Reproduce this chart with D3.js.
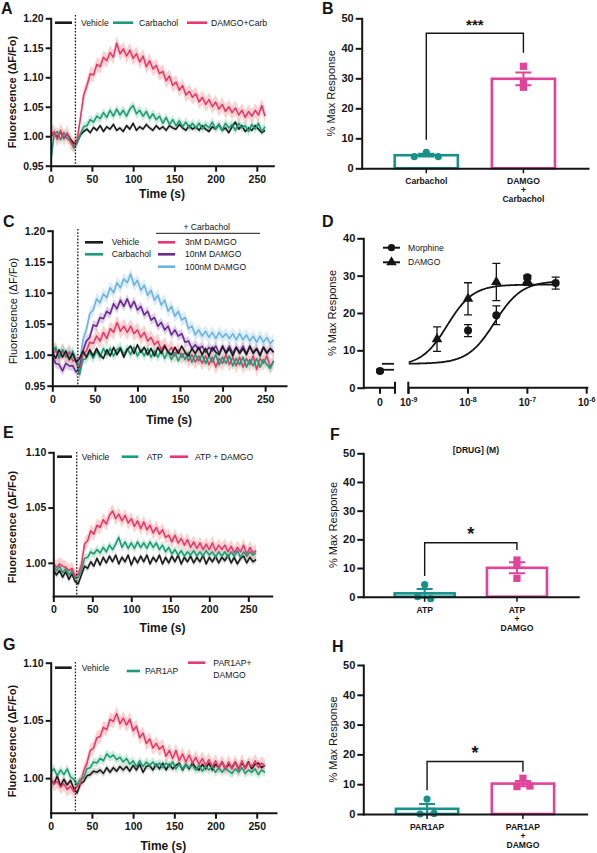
<!DOCTYPE html>
<html><head><meta charset="utf-8">
<script src="https://cdn.jsdelivr.net/npm/d3@7"></script>
<style>
html,body{margin:0;padding:0;background:#fff;}
svg{display:block;}
</style></head><body>
<svg id="fig" width="597" height="853"></svg>
<script>
// ================= DATA =================
const SAMPLE_INTERVAL_S = 4;              // traces sampled every 4 s, t = 0..260
const X_TICKS = [0, 50, 100, 150, 200, 250];

// Panel A
const aLabels = ["Vehicle", "Carbachol", "DAMGO+Carb"];
const aVehicle = [
 1.000,1.006,0.998,1.008,0.996,1.004,0.995,0.988,0.990,1.002,1.008,
 1.012,1.006,1.015,1.010,1.018,1.008,1.016,1.012,1.020,1.010,1.014,
 1.008,1.018,1.012,1.022,1.010,1.016,1.012,1.020,1.014,1.010,1.018,
 1.012,1.016,1.010,1.018,1.014,1.012,1.020,1.014,1.010,1.018,1.012,
 1.016,1.010,1.018,1.012,1.008,1.016,1.012,1.020,1.010,1.014,1.006,
 1.016,1.024,1.012,1.018,1.008,1.014,1.010,1.018,1.012,1.006,1.010];
const aCarb = [
 0.955,1.002,1.008,0.994,1.006,0.996,0.992,0.980,0.988,1.004,1.016,
 1.018,1.028,1.024,1.034,1.030,1.040,1.032,1.044,1.034,1.046,1.036,
 1.044,1.034,1.046,1.052,1.038,1.044,1.034,1.042,1.030,1.038,1.028,
 1.034,1.022,1.032,1.020,1.028,1.018,1.026,1.016,1.024,1.014,1.022,
 1.014,1.022,1.012,1.020,1.014,1.024,1.012,1.020,1.010,1.022,1.014,
 1.020,1.010,1.022,1.014,1.018,1.008,1.020,1.012,1.022,1.008,1.016];
const aDamgo = [
 1.000,1.008,0.994,1.010,0.996,1.006,0.990,0.984,0.994,1.030,1.070,
 1.086,1.106,1.104,1.122,1.118,1.134,1.128,1.142,1.134,1.158,1.140,
 1.148,1.136,1.146,1.132,1.140,1.126,1.136,1.118,1.128,1.114,1.120,
 1.106,1.110,1.094,1.102,1.086,1.092,1.078,1.086,1.070,1.076,1.066,
 1.072,1.058,1.066,1.054,1.062,1.050,1.058,1.046,1.054,1.042,1.050,
 1.040,1.048,1.036,1.044,1.032,1.042,1.034,1.044,1.036,1.052,1.034];
const aSem = [0.004, 0.008, 0.012];
const aYTicks = [0.95, 1.00, 1.05, 1.10, 1.15, 1.20];

// Panel B
const bCats = ["Carbachol", "DAMGO\n+\nCarbachol"];
const bCarb = [3.9, 5.3, 3.9];
const bDamgo = [34.0, 28.5, 27.0];
const bSig = {label: "***", bracket: 45, leftEnd: 9.5, rightEnd: 38.5};

// Panel C
const cLabels = ["Vehicle", "Carbachol", "3nM DAMGO", "10nM DAMGO", "100nM DAMGO"];
const cVehicle = [
 1.004,0.994,1.008,0.996,1.006,0.992,1.002,0.988,0.994,1.006,0.996,
 1.008,0.998,1.010,1.000,0.994,1.008,0.998,1.012,1.000,1.010,0.996,
 1.008,1.014,1.002,1.016,1.004,1.012,1.000,1.010,0.998,1.012,1.002,
 1.014,1.004,1.000,1.012,1.002,1.014,1.004,0.998,1.010,1.002,1.012,
 1.000,1.010,0.998,1.012,1.004,1.000,1.014,1.002,1.010,0.998,1.012,
 1.002,1.010,1.000,1.014,1.002,1.010,0.998,1.012,1.002,1.010,1.004];
const cCarb = [
 1.006,1.012,0.996,1.008,1.000,0.994,1.006,0.990,0.968,0.992,0.994,
 1.004,0.994,1.006,0.996,1.010,1.000,1.010,0.998,1.008,1.012,1.000,
 1.010,1.000,1.012,0.998,1.008,0.998,1.010,0.996,1.006,0.996,1.008,
 0.994,1.006,0.992,1.004,0.990,1.002,0.992,1.004,0.988,1.000,0.990,
 1.000,0.986,0.998,0.988,1.000,0.984,0.996,0.986,0.998,0.982,0.994,
 0.984,0.996,0.980,0.992,0.982,0.994,0.980,0.992,0.984,0.978,0.990];
const c3nM = [
 1.000,1.008,0.994,1.006,0.996,1.004,0.990,0.992,0.970,1.000,1.006,
 1.020,1.018,1.030,1.022,1.036,1.026,1.042,1.036,1.052,1.038,1.046,
 1.036,1.046,1.034,1.040,1.028,1.036,1.022,1.028,1.016,1.022,1.008,
 1.016,1.004,1.012,0.998,1.008,0.996,1.004,0.990,1.000,0.988,0.998,
 0.986,0.998,0.984,0.996,0.980,0.994,0.986,1.000,0.984,0.996,0.982,
 0.996,0.980,0.994,0.984,0.998,0.976,0.994,0.986,0.998,0.980,0.990];
const c10nM = [
 0.998,0.986,0.984,0.974,0.986,0.982,0.982,0.972,0.980,1.006,1.022,
 1.028,1.048,1.046,1.060,1.058,1.070,1.066,1.082,1.074,1.088,1.078,
 1.090,1.076,1.086,1.072,1.078,1.064,1.070,1.056,1.060,1.046,1.052,
 1.040,1.046,1.032,1.040,1.030,1.034,1.020,1.022,1.010,1.016,1.008,
 1.014,1.004,1.012,1.006,1.014,1.002,1.012,1.004,1.014,1.002,1.012,
 1.004,1.014,1.002,1.012,1.004,1.010,1.000,1.012,1.004,1.010,1.004];
const c100nM = [
 1.000,1.006,0.996,1.008,0.998,1.006,0.994,0.990,0.986,1.024,1.040,
 1.066,1.072,1.090,1.084,1.098,1.092,1.108,1.100,1.116,1.108,1.122,
 1.116,1.130,1.112,1.120,1.104,1.112,1.096,1.104,1.088,1.096,1.080,
 1.088,1.070,1.078,1.062,1.070,1.056,1.060,1.042,1.046,1.032,1.040,
 1.030,1.038,1.028,1.036,1.026,1.036,1.028,1.034,1.026,1.034,1.024,
 1.034,1.024,1.032,1.022,1.030,1.020,1.030,1.020,1.028,1.018,1.024];
const cSem = [0.004, 0.008, 0.012, 0.008, 0.010];

// Panel D
const dMorphConc = [0, 1e-8, 3e-8, 1e-7, 3e-7];
const dMorphResp = [4.5, 15.3, 19.4, 29.6, 28.0];
const dMorphErr  = [0.4, 1.6, 2.5, 0.5, 1.6];
const dDamgoConc = [3e-9, 1e-8, 3e-8, 1e-7];
const dDamgoResp = [13.0, 23.8, 28.3, 28.6];
const dDamgoErr  = [3.3, 4.3, 5.0, 1.2];
// 4-parameter logistic fits: [bottom, top, logEC50, hill]
const dMorphFit = [6.4, 28.6, -7.55, 1.9];
const dDamgoFit = [5.8, 27.6, -8.35, 2.0];
const dZeroLines = [6.4, 4.8];
const dXTickExp = [-9, -8, -7, -6];

// Panel E
const eLabels = ["Vehicle", "ATP", "ATP + DAMGO"];
const eVehicle = [
 0.994,0.989,0.993,0.987,0.992,0.985,0.990,0.983,0.981,0.989,0.997,
 0.995,1.001,0.997,1.004,0.998,1.005,1.000,1.006,1.001,1.007,0.999,
 1.005,1.001,1.007,0.998,1.005,1.000,1.006,1.001,1.007,0.999,1.005,
 1.001,1.007,0.999,1.005,1.000,1.006,1.001,1.007,0.999,1.005,1.001,
 1.006,1.000,1.005,1.001,1.007,0.999,1.005,1.001,1.006,1.000,1.005,
 1.002,1.007,1.000,1.005,0.999,1.004,1.006,1.000,1.005,1.001,1.003];
const eATP = [
 0.998,0.993,0.997,0.991,0.995,0.989,0.993,0.986,0.987,0.993,1.004,
 1.005,1.010,1.008,1.012,1.009,1.014,1.010,1.016,1.012,1.017,1.023,
 1.014,1.019,1.013,1.018,1.013,1.019,1.014,1.018,1.013,1.019,1.014,
 1.018,1.012,1.016,1.010,1.014,1.008,1.012,1.007,1.011,1.006,1.010,
 1.007,1.011,1.006,1.010,1.006,1.011,1.007,1.010,1.005,1.010,1.006,
 1.010,1.005,1.010,1.006,1.011,1.005,1.010,1.006,1.010,1.007,1.009];
const eDamgo = [
 1.000,0.996,0.999,0.997,0.996,0.993,0.995,0.988,0.990,0.998,1.017,
 1.020,1.029,1.026,1.034,1.032,1.039,1.035,1.043,1.047,1.040,1.044,
 1.038,1.043,1.036,1.040,1.033,1.038,1.031,1.037,1.030,1.034,1.027,
 1.032,1.026,1.030,1.023,1.025,1.019,1.025,1.018,1.022,1.016,1.021,
 1.014,1.019,1.013,1.018,1.012,1.017,1.012,1.018,1.011,1.016,1.012,
 1.016,1.010,1.015,1.009,1.014,1.010,1.016,1.008,1.014,1.009,1.011];
const eSem = [0.003, 0.004, 0.006];
const egYTicks = [1.00, 1.05, 1.10];

// Panel F
const fCats = ["ATP", "ATP\n+\nDAMGO"];
const fATP = [4.2, 0.0, -0.7];
const fDamgo = [12.8, 11.0, 6.4];
const fSig = {label: "*", bracket: 18.8, leftEnd: 7.2, rightEnd: 16.3};

// Panel G
const gLabels = ["Vehicle", "PAR1AP", "PAR1AP+\nDAMGO"];
const gVehicle = [
 0.999,0.995,1.002,0.993,0.999,0.994,0.998,0.991,0.987,0.995,0.997,
 1.002,1.003,1.006,1.005,1.007,1.004,1.009,1.005,1.009,1.006,1.010,
 1.007,1.010,1.006,1.011,1.007,1.012,1.005,1.010,1.011,1.007,1.012,
 1.008,1.013,1.007,1.012,1.008,1.011,1.013,1.007,1.012,1.008,1.013,
 1.009,1.007,1.012,1.008,1.013,1.007,1.012,1.009,1.014,1.008,1.012,
 1.009,1.014,1.008,1.013,1.009,1.014,1.008,1.012,1.013,1.009,1.011];
const gPAR = [
 1.005,1.008,1.002,1.007,1.003,1.008,1.001,0.999,0.994,0.999,1.000,
 1.008,1.009,1.014,1.013,1.017,1.015,1.021,1.018,1.020,1.016,1.018,
 1.014,1.017,1.012,1.015,1.010,1.015,1.010,1.014,1.011,1.014,1.010,
 1.013,1.009,1.013,1.010,1.014,1.008,1.012,1.008,1.012,1.009,1.011,
 1.007,1.011,1.006,1.010,1.007,1.010,1.005,1.009,1.005,1.009,1.006,
 1.004,1.008,1.005,1.009,1.004,1.007,1.005,1.008,1.003,1.007,1.005];
const gDamgo = [
 0.999,0.995,0.997,0.992,0.995,0.990,0.993,0.988,0.993,0.995,1.006,
 1.013,1.024,1.026,1.035,1.036,1.044,1.042,1.051,1.049,1.056,1.047,
 1.052,1.046,1.051,1.041,1.045,1.035,1.039,1.030,1.034,1.026,1.030,
 1.025,1.028,1.019,1.024,1.017,1.024,1.015,1.021,1.014,1.020,1.013,
 1.018,1.012,1.017,1.011,1.016,1.010,1.015,1.009,1.014,1.008,1.014,
 1.008,1.014,1.007,1.015,1.008,1.013,1.010,1.015,1.009,1.013,1.010];
const gSem = [0.003, 0.004, 0.006];

// Panel H
const hCats = ["PAR1AP", "PAR1AP\n+\nDAMGO"];
const hPAR = [5.0, 0.0, 0.2];
const hDamgo = [12.0, 9.2, 9.4];
const hSig = {label: "*", bracket: 17.6, leftEnd: 8.0, rightEnd: 14.2};

const barYTicks = [0, 10, 20, 30, 40, 50];

// ================= STYLE =================
const FONT = '"Liberation Sans", Arial, Helvetica, sans-serif';
const INK = "#151515";
const C = {
  black: "#1c1c1c", blackBand: "#b0b0b0",
  teal: "#1c9c7c", tealBand: "#9fd8b4",
  pink: "#e8386f", pinkBand: "#f5a8a4",
  purple: "#6a2b8c", purpleBand: "#bea2d6",
  blue: "#6cb3e2", blueBand: "#bcdcf2",
  barTeal: "#17918a", barPink: "#e2439a"
};

const svg = d3.select("#fig").attr("font-family", FONT);

function styleAxis(sel, size) {
  sel.attr("font-family", FONT).attr("font-size", size || 10.5).attr("font-weight", "bold");
  sel.select(".domain").attr("stroke", INK).attr("stroke-width", 2).attr("stroke-linecap", "square");
  sel.selectAll(".tick line").attr("stroke", INK).attr("stroke-width", 2);
  sel.selectAll(".tick text").attr("fill", INK);
}

function panelLabel(txt, x, y) {
  svg.append("text").attr("x", x).attr("y", y).text(txt)
    .attr("font-size", 16).attr("font-weight", "bold").attr("fill", INK);
}

function yTitle(txt, x, y, bold) {
  svg.append("text").attr("transform", `translate(${x},${y}) rotate(-90)`)
    .attr("text-anchor", "middle").attr("dy", "0.35em")
    .attr("font-size", 11).attr("font-weight", bold ? "bold" : "normal")
    .attr("fill", INK).text(txt);
}

let clipId = 0;
function tracePanel(o) {
  const g = svg.append("g");
  const x = d3.scaleLinear().domain([0, o.xMax]).range([o.left, o.right]);
  const y = d3.scaleLinear().domain(o.yDomain).range([o.bottom, o.top]);
  const id = "clip" + (clipId++);
  g.append("clipPath").attr("id", id).append("rect")
    .attr("x", o.left).attr("y", o.top).attr("width", o.right - o.left).attr("height", o.bottom - o.top);
  const plot = g.append("g").attr("clip-path", `url(#${id})`);
  const toPts = vals => vals.map((v, i) => ({t: i * SAMPLE_INTERVAL_S, v}));
  o.series.forEach(s => {
    const area = d3.area().x(d => x(d.t)).y0(d => y(d.v - s.sem)).y1(d => y(d.v + s.sem));
    plot.append("path").attr("d", area(toPts(s.values))).attr("fill", s.band).attr("opacity", 0.5);
  });
  const line = d3.line().x(d => x(d.t)).y(d => y(d.v));
  o.series.forEach(s => {
    plot.append("path").attr("d", line(toPts(s.values))).attr("fill", "none")
      .attr("stroke", s.color).attr("stroke-width", 1.6).attr("stroke-linejoin", "round");
  });
  // stimulus marker at t = 30 s
  g.append("line").attr("x1", x(30)).attr("x2", x(30)).attr("y1", o.dotTop).attr("y2", o.bottom)
    .attr("stroke", INK).attr("stroke-width", 1.3).attr("stroke-dasharray", "1.6,1.6");
  const ax = g.append("g").attr("transform", `translate(0,${o.bottom})`)
    .call(d3.axisBottom(x).tickValues(X_TICKS).tickSize(6).tickPadding(4).tickSizeOuter(0));
  styleAxis(ax);
  const ay = g.append("g").attr("transform", `translate(${o.left},0)`)
    .call(d3.axisLeft(y).tickValues(o.yTicks).tickFormat(d3.format(".2f")).tickSize(5).tickPadding(2).tickSizeOuter(0));
  styleAxis(ay);
  g.append("text").attr("x", (o.left + o.right) / 2).attr("y", o.xTitleY).attr("text-anchor", "middle")
    .attr("font-size", 12).attr("font-weight", "bold").attr("fill", INK).text("Time (s)");
  yTitle("Fluorescence (\u0394F/Fo)", o.yTitleX, o.yTitleY, o.yTitleBold);
  // legend
  o.legend.forEach(l => {
    g.append("line").attr("x1", l.lx).attr("x2", l.lx + l.lw).attr("y1", l.ly).attr("y2", l.ly)
      .attr("stroke", l.color).attr("stroke-width", 2.6);
    const t = g.append("text").attr("x", l.tx).attr("y", l.ty).attr("font-size", 8.6).attr("fill", INK);
    l.text.split("\n").forEach((s, i) => t.append("tspan").attr("x", l.tx).attr("dy", i ? "1.35em" : "0.35em").text(s));
  });
  return {x, y, g};
}

function barPanel(o) {
  const g = svg.append("g");
  const x = d3.scaleBand().domain(o.cats).range([o.left, o.right]).paddingInner(0.35).paddingOuter(0.34);
  const y = d3.scaleLinear().domain([0, 50]).range([o.bottom, o.top]);
  o.groups.forEach((gr, gi) => {
    const cat = o.cats[gi];
    const mean = d3.mean(gr.values);
    const sem = d3.deviation(gr.values) / Math.sqrt(gr.values.length);
    const cx = x(cat) + x.bandwidth() / 2;
    g.append("rect").attr("x", x(cat)).attr("y", y(mean)).attr("width", x.bandwidth())
      .attr("height", y(0) - y(mean)).attr("fill", "#fff").attr("stroke", gr.color).attr("stroke-width", 2.6);
    gr.values.forEach((v, i) => {
      const px = cx + gr.offsets[i];
      if (gr.shape === "circle") {
        g.append("circle").attr("cx", px).attr("cy", y(v)).attr("r", 3.6).attr("fill", gr.color);
      } else {
        g.append("rect").attr("x", px - 3.6).attr("y", y(v) - 3.6).attr("width", 7.2).attr("height", 7.2).attr("fill", gr.color);
      }
    });
    const cap = 8;
    g.append("path").attr("fill", "none").attr("stroke", gr.color).attr("stroke-width", 2)
      .attr("d", `M${cx},${y(mean + sem)}V${y(mean - sem)}M${cx - cap},${y(mean + sem)}H${cx + cap}M${cx - cap},${y(mean - sem)}H${cx + cap}M${cx - cap - 1},${y(mean)}H${cx + cap + 1}`);
  });
  const ax = g.append("g").attr("transform", `translate(0,${o.bottom})`)
    .call(d3.axisBottom(x).tickSize(5).tickSizeOuter(0).tickFormat(""));
  styleAxis(ax);
  ax.selectAll(".tick line").attr("stroke-width", 1.5);
  o.cats.forEach(c => {
    const t = g.append("text").attr("x", x(c) + x.bandwidth() / 2).attr("y", o.bottom + 16)
      .attr("text-anchor", "middle").attr("font-size", 8.6).attr("font-weight", "bold").attr("fill", INK);
    c.split("\n").forEach((s, i) => t.append("tspan").attr("x", x(c) + x.bandwidth() / 2).attr("dy", i ? 8.9 : 0).text(s));
  });
  const ay = g.append("g").attr("transform", `translate(${o.left},0)`)
    .call(d3.axisLeft(y).tickValues(barYTicks).tickSize(6).tickPadding(2).tickSizeOuter(0));
  styleAxis(ay, 11);
  // significance bracket
  const lx = x(o.cats[0]) + x.bandwidth() / 2, rx = x(o.cats[1]) + x.bandwidth() / 2;
  g.append("path").attr("fill", "none").attr("stroke", INK).attr("stroke-width", 1.4)
    .attr("d", `M${lx},${y(o.sig.leftEnd)}V${y(o.sig.bracket)}H${rx}V${y(o.sig.rightEnd)}`);
  g.append("text").attr("x", (lx + rx) / 2).attr("y", y(o.sig.bracket) - 3).attr("text-anchor", "middle")
    .attr("font-size", o.sig.label.length > 1 ? 15 : 18).attr("font-weight", "bold").attr("fill", INK).text(o.sig.label);
  yTitle("% Max Response", o.yTitleX, (o.top + o.bottom) / 2, false);
}

// ================= PANEL A =================
panelLabel("A", 1, 14);
tracePanel({
  left: 50.7, right: 273.3, top: 18.3, bottom: 165.7, xMax: 270, dotTop: 15,
  yDomain: [0.95, 1.20], yTicks: aYTicks, xTitleY: 198,
  yTitleX: 12, yTitleY: 92, yTitleBold: true,
  series: [
    {values: aVehicle, sem: aSem[0], color: C.black, band: C.blackBand},
    {values: aCarb, sem: aSem[1], color: C.teal, band: C.tealBand},
    {values: aDamgo, sem: aSem[2], color: C.pink, band: C.pinkBand}
  ],
  legend: [
    {lx: 55, lw: 17, ly: 22.7, tx: 81, ty: 22.7, color: C.black, text: aLabels[0]},
    {lx: 113, lw: 20, ly: 22.7, tx: 139, ty: 22.7, color: C.teal, text: aLabels[1]},
    {lx: 187, lw: 20, ly: 22.7, tx: 211, ty: 22.7, color: C.pink, text: aLabels[2]}
  ]
});

// ================= PANEL B =================
panelLabel("B", 322, 14);
barPanel({
  left: 361.7, right: 588, top: 18.3, bottom: 168.3, cats: bCats, sig: bSig, yTitleX: 331,
  groups: [
    {values: bCarb, color: C.barTeal, shape: "circle", offsets: [-12, 0, 12]},
    {values: bDamgo, color: C.barPink, shape: "square", offsets: [0, 0, 0]}
  ]
});

// ================= PANEL C =================
panelLabel("C", 3, 227);
tracePanel({
  left: 52.3, right: 286, top: 230.7, bottom: 385.7, xMax: 274.5, dotTop: 229,
  yDomain: [0.95, 1.20], yTicks: aYTicks, xTitleY: 424,
  yTitleX: 13, yTitleY: 311, yTitleBold: false,
  series: [
    {values: c100nM, sem: cSem[4], color: C.blue, band: C.blueBand},
    {values: c10nM, sem: cSem[3], color: C.purple, band: C.purpleBand},
    {values: c3nM, sem: cSem[2], color: C.pink, band: C.pinkBand},
    {values: cCarb, sem: cSem[1], color: C.teal, band: C.tealBand},
    {values: cVehicle, sem: cSem[0], color: C.black, band: C.blackBand}
  ],
  legend: [
    {lx: 85, lw: 18, ly: 242.3, tx: 111.7, ty: 242.3, color: C.black, text: cLabels[0]},
    {lx: 85, lw: 18, ly: 254.3, tx: 111.7, ty: 254.3, color: C.teal, text: cLabels[1]},
    {lx: 158, lw: 17, ly: 242.3, tx: 185, ty: 242.3, color: C.pink, text: cLabels[2]},
    {lx: 158, lw: 17, ly: 254.3, tx: 185, ty: 254.3, color: C.purple, text: cLabels[3]},
    {lx: 158, lw: 17, ly: 266.7, tx: 185, ty: 266.7, color: C.blue, text: cLabels[4]}
  ]
});
svg.append("text").attr("x", 206.7).attr("y", 229.5).attr("text-anchor", "middle")
  .attr("font-size", 8.6).attr("fill", INK).text("+ Carbachol");
svg.append("line").attr("x1", 156).attr("x2", 260).attr("y1", 233.3).attr("y2", 233.3)
  .attr("stroke", INK).attr("stroke-width", 1);

// ================= PANEL D =================
panelLabel("D", 322, 227);
(function () {
  const g = svg.append("g");
  const y = d3.scaleLinear().domain([0, 40]).range([387.7, 238.3]);
  const x = d3.scaleLog().domain([1e-9, 1e-6]).range([408.7, 586.7]);
  const xZero = 380, axisLeft = 363.3, breakL = 395, breakR = 408.3, axisEnd = 588.3;
  const px = c => c === 0 ? xZero : x(c);
  const ay = g.append("g").attr("transform", `translate(${axisLeft},0)`)
    .call(d3.axisLeft(y).tickValues([0, 10, 20, 30, 40]).tickSize(6).tickPadding(2).tickSizeOuter(0));
  styleAxis(ay, 11);
  const y0 = y(0);
  g.append("path").attr("stroke", INK).attr("stroke-width", 2).attr("fill", "none")
    .attr("d", `M${axisLeft},${y0}H${breakL}M${breakL},${y0 - 6}V${y0 + 6}M${breakR},${y0 - 6}V${y0 + 6}M${breakR},${y0}H${axisEnd}`);
  const tickPos = [xZero].concat(dXTickExp.map(e => x(Math.pow(10, e))));
  tickPos.forEach(p => g.append("line").attr("x1", p).attr("x2", p).attr("y1", y0).attr("y2", y0 + 6)
    .attr("stroke", INK).attr("stroke-width", 2));
  const lblY = y0 + 18;
  g.append("text").attr("x", xZero).attr("y", lblY).attr("text-anchor", "middle")
    .attr("font-size", 10.5).attr("font-weight", "bold").attr("fill", INK).text("0");
  dXTickExp.forEach(e => {
    const t = g.append("text").attr("x", x(Math.pow(10, e))).attr("y", lblY).attr("text-anchor", "middle")
      .attr("font-size", 10).attr("font-weight", "bold").attr("fill", INK);
    t.append("tspan").text("10");
    t.append("tspan").attr("dy", -4).attr("font-size", 7).text(String(e));
  });
  svg.append("text").attr("x", 476).attr("y", 453).attr("text-anchor", "middle")
    .attr("font-size", 8.6).attr("font-weight", "bold").attr("fill", INK).text("[DRUG] (M)");
  yTitle("% Max Response", 332, 313, false);
  // fitted curves (4PL from fit parameters)
  const logistic = (p, lc) => p[0] + (p[1] - p[0]) / (1 + Math.pow(10, (p[2] - lc) * p[3]));
  const lcs = d3.range(-9, -6.51, 0.02);
  const curve = d3.line().x(d => x(Math.pow(10, d[0]))).y(d => y(d[1]));
  [dMorphFit, dDamgoFit].forEach(p => {
    g.append("path").attr("fill", "none").attr("stroke", INK).attr("stroke-width", 1.8)
      .attr("d", curve(lcs.map(lc => [lc, logistic(p, lc)])));
  });
  dZeroLines.forEach(v => g.append("line").attr("x1", xZero + 2).attr("x2", breakL - 1)
    .attr("y1", y(v)).attr("y2", y(v)).attr("stroke", INK).attr("stroke-width", 1.8));
  const errbar = (c, v, e) => {
    const cx = px(c);
    g.append("path").attr("fill", "none").attr("stroke", INK).attr("stroke-width", 1.3)
      .attr("d", `M${cx},${y(v + e)}V${y(v - e)}M${cx - 4},${y(v + e)}H${cx + 4}M${cx - 4},${y(v - e)}H${cx + 4}`);
  };
  dMorphConc.forEach((c, i) => errbar(c, dMorphResp[i], dMorphErr[i]));
  dDamgoConc.forEach((c, i) => errbar(c, dDamgoResp[i], dDamgoErr[i]));
  dMorphConc.forEach((c, i) => g.append("circle").attr("cx", px(c)).attr("cy", y(dMorphResp[i])).attr("r", 4).attr("fill", INK));
  const tri = d3.symbol().type(d3.symbolTriangle).size(48);
  dDamgoConc.forEach((c, i) => g.append("path").attr("d", tri()).attr("fill", INK)
    .attr("transform", `translate(${px(c)},${y(dDamgoResp[i])})`));
  [["Morphine", 247.7, "circle"], ["DAMGO", 262.3, "tri"]].forEach(([name, ly, m]) => {
    g.append("line").attr("x1", 383).attr("x2", 400).attr("y1", ly).attr("y2", ly).attr("stroke", INK).attr("stroke-width", 2);
    if (m === "circle") g.append("circle").attr("cx", 391.5).attr("cy", ly).attr("r", 3.6).attr("fill", INK);
    else g.append("path").attr("d", tri()).attr("fill", INK).attr("transform", `translate(391.5,${ly})`);
    g.append("text").attr("x", 408).attr("y", ly).attr("dy", "0.35em").attr("font-size", 8.6).attr("fill", INK).text(name);
  });
})();

// ================= PANEL E =================
panelLabel("E", 3, 438);
tracePanel({
  left: 53.3, right: 271.7, top: 452.3, bottom: 596, xMax: 280, dotTop: 452,
  yDomain: [0.97, 1.10], yTicks: egYTicks, xTitleY: 632,
  yTitleX: 12, yTitleY: 527, yTitleBold: true,
  series: [
    {values: eVehicle, sem: eSem[0], color: C.black, band: C.blackBand},
    {values: eATP, sem: eSem[1], color: C.teal, band: C.tealBand},
    {values: eDamgo, sem: eSem[2], color: C.pink, band: C.pinkBand}
  ],
  legend: [
    {lx: 57, lw: 15, ly: 456.7, tx: 81.7, ty: 456.7, color: C.black, text: eLabels[0]},
    {lx: 121.7, lw: 16.6, ly: 456.7, tx: 146.7, ty: 456.7, color: C.teal, text: eLabels[1]},
    {lx: 170, lw: 18, ly: 456.7, tx: 195, ty: 456.7, color: C.pink, text: eLabels[2]}
  ]
});

// ================= PANEL F =================
panelLabel("F", 330, 440);
barPanel({
  left: 363.3, right: 578.3, top: 453.3, bottom: 596.7, cats: fCats, sig: fSig, yTitleX: 333,
  groups: [
    {values: fATP, color: C.barTeal, shape: "circle", offsets: [0, -7, 6]},
    {values: fDamgo, color: C.barPink, shape: "square", offsets: [0, 0, 0]}
  ]
});

// ================= PANEL G =================
panelLabel("G", 3, 650);
tracePanel({
  left: 50.7, right: 276, top: 662.7, bottom: 812.7, xMax: 273.4, dotTop: 662,
  yDomain: [0.97, 1.10], yTicks: egYTicks, xTitleY: 850,
  yTitleX: 12, yTitleY: 741, yTitleBold: true,
  series: [
    {values: gVehicle, sem: gSem[0], color: C.black, band: C.blackBand},
    {values: gPAR, sem: gSem[1], color: C.teal, band: C.tealBand},
    {values: gDamgo, sem: gSem[2], color: C.pink, band: C.pinkBand}
  ],
  legend: [
    {lx: 55, lw: 16.7, ly: 667.7, tx: 81.7, ty: 667.7, color: C.black, text: gLabels[0]},
    {lx: 126.7, lw: 13.3, ly: 671, tx: 145, ty: 671, color: C.teal, text: gLabels[1]},
    {lx: 188, lw: 17, ly: 662.7, tx: 213.3, ty: 663.3, color: C.pink, text: gLabels[2]}
  ]
});

// ================= PANEL H =================
panelLabel("H", 332, 652);
barPanel({
  left: 363.3, right: 586.7, top: 665, bottom: 814, cats: hCats, sig: hSig, yTitleX: 333,
  groups: [
    {values: hPAR, color: C.barTeal, shape: "circle", offsets: [0, -7, 7]},
    {values: hDamgo, color: C.barPink, shape: "square", offsets: [0, -6, 7]}
  ]
});
</script>
</body></html>
